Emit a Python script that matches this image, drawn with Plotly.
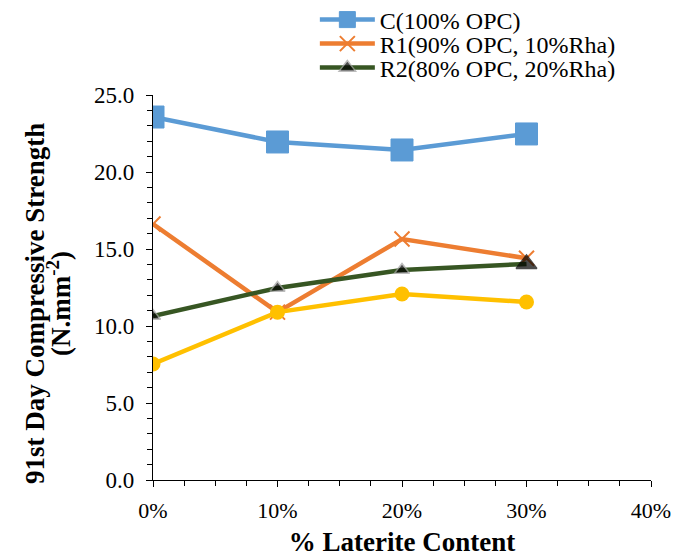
import plotly.graph_objects as go

laterite = [0.0, 0.10, 0.20, 0.30]
c_vals = [23.57, 21.95, 21.43, 22.47]
r1_vals = [16.62, 10.90, 15.65, 14.40]
r2_vals = [10.65, 12.47, 13.64, 14.03]
r3_vals = [7.53, 10.90, 12.08, 11.56]

names = ["C(100% OPC)", "R1(90% OPC, 10%Rha)", "R2(80% OPC, 20%Rha)"]
y_title_lines = ["<b>91st Day Compressive Strength</b>", "<b>(N.mm<sup>-2</sup>)</b>"]
x_title = "<b>% Laterite Content</b>"

font_family = "Liberation Serif"

fig = go.Figure()
fig.add_trace(go.Scatter(x=laterite, y=c_vals, name=names[0], mode="lines+markers",
                         legend="legend",
                         line=dict(color="#5B9BD5", width=4.5),
                         marker=dict(symbol="square", size=22, color="#5B9BD5",
                                     line=dict(color="#5B9BD5", width=1))))
fig.add_trace(go.Scatter(x=laterite, y=r1_vals, name=names[1], mode="lines+markers",
                         legend="legend2",
                         line=dict(color="#ED7D31", width=4.5),
                         marker=dict(symbol="x-thin", size=15, color="#ED7D31",
                                     line=dict(color="#ED7D31", width=2))))
fig.add_trace(go.Scatter(x=laterite, y=r3_vals, name="R3", mode="lines+markers",
                         showlegend=False,
                         line=dict(color="#FFC000", width=4.5),
                         marker=dict(symbol="circle", size=15, color="#FFC000")))
fig.add_trace(go.Scatter(x=laterite, y=r2_vals, name=names[2], mode="lines+markers",
                         legend="legend3",
                         line=dict(color="#375623", width=4.5),
                         marker=dict(symbol="triangle-up", size=[13, 13, 13, 18], color="black",
                                     line=dict(color=["#A0A0A0", "#A0A0A0", "#A0A0A0", "black"], width=1.5))))


def legend_at(ypix):
    return dict(x=0.325, xref="paper", y=1 - ypix / 558, yref="container",
                xanchor="left", yanchor="middle",
                font=dict(family=font_family, size=24, color="black"),
                itemwidth=55, bgcolor="rgba(0,0,0,0)")


fig.update_layout(
    width=686, height=558,
    margin=dict(l=153, r=35, t=95, b=78, autoexpand=False),
    plot_bgcolor="white", paper_bgcolor="white",
    font=dict(family=font_family, size=22, color="black"),
    showlegend=True,
    legend=legend_at(20),
    legend2=legend_at(44),
    legend3=legend_at(68),
    xaxis=dict(range=[0, 0.4], dtick=0.1, tickformat=".0%",
               showgrid=False, zeroline=False, showline=True, linecolor="black", linewidth=1.2,
               ticks="outside", ticklen=6, tickcolor="black", ticklabelstandoff=4,
               minor=dict(dtick=0.025, ticks="outside", ticklen=5, tickcolor="black"),
               tickfont=dict(family=font_family, size=22),
               title=dict(text=x_title, font=dict(family=font_family, size=27),
                          standoff=10)),
    yaxis=dict(range=[0, 25], dtick=5, tickformat=".1f",
               showgrid=False, zeroline=False, showline=True, linecolor="black", linewidth=1.2,
               ticks="outside", ticklen=6, tickcolor="black", ticklabelstandoff=7,
               minor=dict(dtick=1, ticks="outside", ticklen=5, tickcolor="black"),
               tickfont=dict(family=font_family, size=23)),
)

for txt, xpix in zip(y_title_lines, [35, 59]):
    fig.add_annotation(text=txt, xref="paper", yref="paper",
                       x=(xpix - 153) / 498, y=(480 - 304) / 385,
                       xanchor="center", yanchor="middle", showarrow=False, textangle=-90,
                       font=dict(family=font_family, size=27, color="black"))

fig.write_html("out.html")
